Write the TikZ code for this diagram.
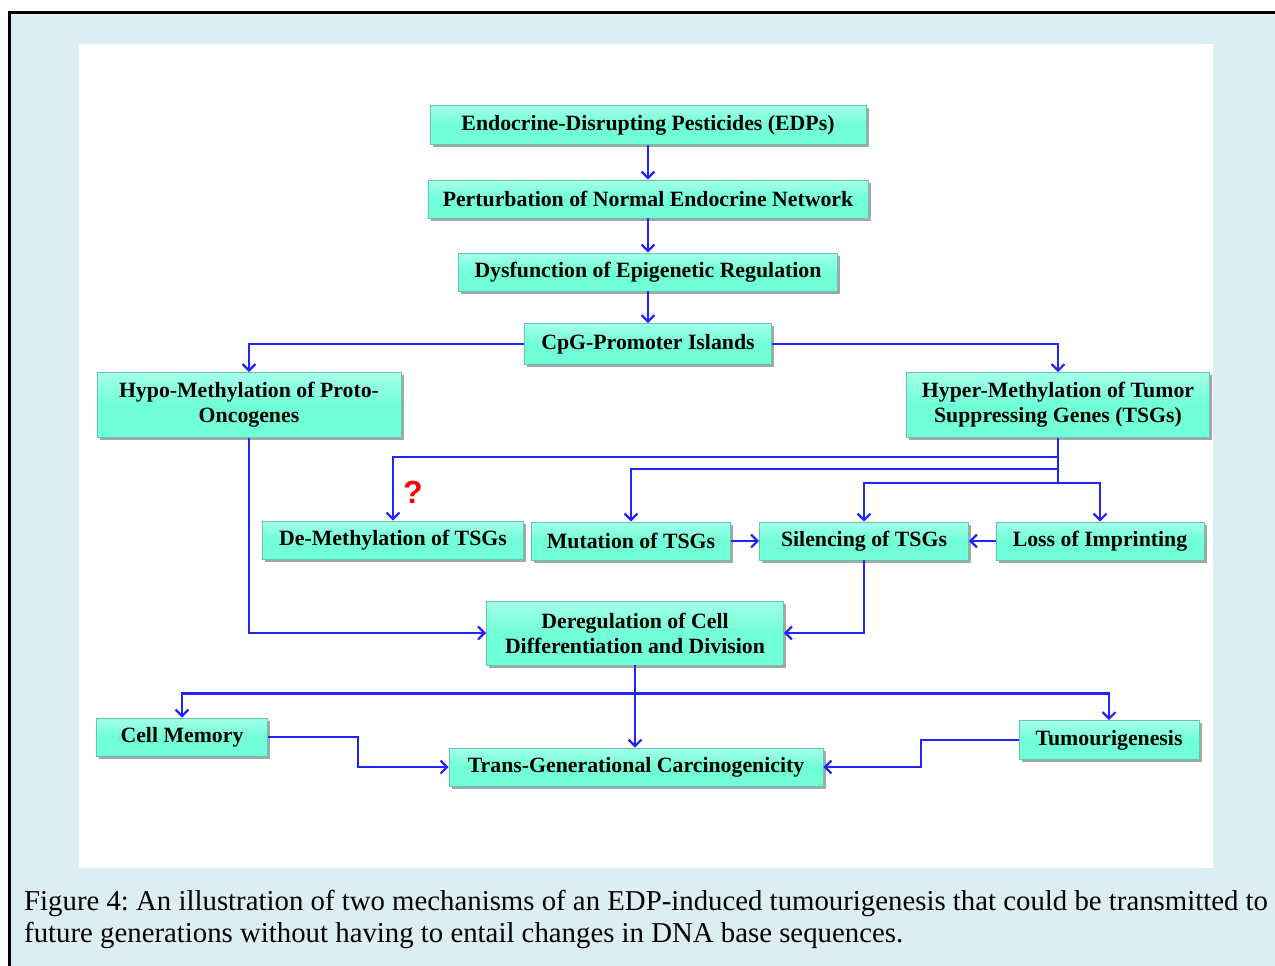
\documentclass[tikz,border=0pt]{standalone}
\usepackage{fontspec}
\setmainfont{Liberation Serif}
\newfontfamily\markfont{Liberation Sans}
\usetikzlibrary{arrows.meta,shadows,calc}

\definecolor{panel}{RGB}{220,238,243}
\definecolor{aqua}{RGB}{112,255,214}
\definecolor{aqualight}{RGB}{165,255,234}
\definecolor{aquaedge}{RGB}{95,200,175}
\definecolor{linkblue}{RGB}{35,35,255}

\tikzset{
  box/.style={draw=aquaedge, line width=0.8pt,
    top color=aqualight, bottom color=aqua, middle color=aqua,
    drop shadow={shadow xshift=2.5pt, shadow yshift=-2.5pt, fill=black, opacity=0.35},
    inner sep=0pt, align=center, text=black,
    font=\bfseries\fontsize{21.8}{25}\selectfont},
  link/.style={draw=linkblue, line width=2.4pt},
  arr/.style={link, -{Straight Barb[length=6.5pt,width=13pt,line width=2.2pt]}}
}

\begin{document}
\frenchspacing
\begin{tikzpicture}[x=1pt,y=-1pt]
\useasboundingbox (0,0) rectangle (1275,966);
\clip (0,0) rectangle (1275,966);

% page, framed panel and white drawing area
\fill[white] (0,0) rectangle (1275,966);
\fill[panel] (9.5,12.5) rectangle (1300,1000);
\draw[line width=3pt] (9.5,1000) -- (9.5,12.5) -- (1300,12.5);
\fill[white] (79,44) rectangle (1213,868);

% boxes
\node[box, minimum width=436pt, minimum height=39pt] (edp)    at (648,125) {Endocrine-Disrupting Pesticides (EDPs)};
\node[box, minimum width=440pt, minimum height=38pt] (pert)   at (648,199) {Perturbation of Normal Endocrine Network};
\node[box, minimum width=379pt, minimum height=38pt] (dys)    at (648,272) {Dysfunction of Epigenetic Regulation};
\node[box, minimum width=247pt, minimum height=41pt] (cpg)    at (648,344) {CpG-Promoter Islands};
\node[box, minimum width=304pt, minimum height=65pt] (hypo)   at (249,405) {Hypo-Methylation of Proto-\\Oncogenes};
\node[box, minimum width=303pt, minimum height=65pt] (hyper)  at (1058,405) {Hyper-Methylation of Tumor\\Suppressing Genes (TSGs)};
\node[box, minimum width=261pt, minimum height=38pt] (demeth) at (393,540) {De-Methylation of TSGs};
\node[box, minimum width=199pt, minimum height=38pt] (mut)    at (631,541) {Mutation of TSGs};
\node[box, minimum width=209pt, minimum height=38pt] (sil)    at (864,541) {Silencing of TSGs};
\node[box, minimum width=208pt, minimum height=38pt] (loss)   at (1100,541) {Loss of Imprinting};
\node[box, minimum width=297pt, minimum height=64pt] (dereg)  at (635,633) {Deregulation of Cell\\Differentiation and Division};
\node[box, minimum width=171pt, minimum height=38pt] (cellmem) at (182,737) {Cell Memory};
\node[box, minimum width=374pt, minimum height=38pt] (trans)  at (636,767) {Trans-Generational Carcinogenicity};
\node[box, minimum width=180pt, minimum height=39pt] (tumour) at (1109,740) {Tumourigenesis};

% question mark beside the uncertain branch
\node[text=red, font=\markfont\bfseries\fontsize{32}{32}\selectfont, inner sep=0pt] (q) at (413,492) {?};

% main chain
\draw[arr] (edp) -- (pert);
\draw[arr] (pert) -- (dys);
\draw[arr] (dys) -- (cpg);
\draw[arr] (cpg.west) -| (hypo.north);
\draw[arr] (cpg.east) -| (hyper.north);

% branches from hyper-methylation
\draw[link] (hyper.south) -- ++(0,46);
\draw[arr] (hyper.south) ++(0,19) -| (demeth.north);
\draw[arr] (hyper.south) ++(0,31) -| (mut.north);
\draw[arr] (hyper.south) ++(0,45) -| (sil.north);
\draw[arr] (hyper.south) ++(0,45) -| (loss.north);
\draw[arr] (mut) -- (sil);
\draw[arr] (loss) -- (sil);

% into deregulation
\draw[arr] (hypo.south) |- (dereg.west);
\draw[arr] (sil.south) |- (dereg.east);

% outcomes
\draw[arr] (dereg.south) -- (dereg.south |- trans.north);
\coordinate (split) at ($(dereg.south)+(0,28)$);
\draw[arr] (split) -| (cellmem.north);
\draw[arr] (split) -| (tumour.north);
\draw[arr] (cellmem.east) -| ($(cellmem.east)!0.5!(trans.west)$) |- (trans.west);
\draw[arr] (tumour.west) -| ($(tumour.west)!0.5!(trans.east)$) |- (trans.east);

% caption
\node[anchor=base west, inner sep=0pt, font=\fontsize{28.8}{32}\selectfont] (cap1) at (24,910)
  {Figure 4: An illustration of two mechanisms of an EDP-induced tumourigenesis that could be transmitted to};
\node[anchor=base west, inner sep=0pt, font=\fontsize{28.8}{32}\selectfont] (cap2) at (24,942)
  {future generations without having to entail changes in DNA base sequences.};
\end{tikzpicture}
\end{document}
